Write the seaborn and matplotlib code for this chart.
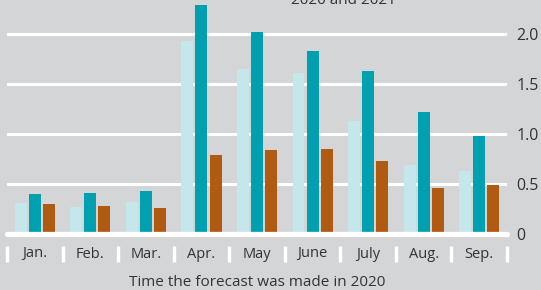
import matplotlib
matplotlib.use("Agg")
import matplotlib.pyplot as plt
import matplotlib.transforms as mtransforms
import seaborn as sns
import numpy as np
import pandas as pd

# Data
months = ["Jan.", "Feb.", "Mar.", "Apr.", "May", "June", "July", "Aug.", "Sep."]
series_names = ["Series A", "Series B", "Series C"]
series_a = [0.31, 0.27, 0.32, 1.93, 1.65, 1.61, 1.13, 0.69, 0.63]
series_b = [0.40, 0.41, 0.43, 2.29, 2.02, 1.83, 1.63, 1.22, 0.98]
series_c = [0.30, 0.28, 0.26, 0.79, 0.84, 0.85, 0.73, 0.46, 0.49]
y_ticks = [0, 0.5, 1.0, 1.5, 2.0]
y_ticklabels = ["0", "0.5", "1.0", "1.5", "2.0"]

bg = "#d4d5d7"
text_color = "#333333"
palette = ["#c5e6ea", "#00a0b1", "#b15a12"]

sns.set_theme(style="white")
plt.rcParams["font.family"] = ["Open Sans", "DejaVu Sans"]

df = pd.DataFrame({
    "month": months * 3,
    "value": series_a + series_b + series_c,
    "series": np.repeat(series_names, len(months)),
})

fig = plt.figure(figsize=(5.41, 2.90), dpi=100, facecolor=bg)
ax = fig.add_axes([7 / 541, (290 - 234) / 290, 500 / 541, 234 / 290])
ax.set_facecolor(bg)

sns.barplot(data=df, x="month", y="value", hue="series", order=months,
            hue_order=series_names, palette=palette, width=0.76, gap=0.15,
            saturation=1, edgecolor="none", legend=False, ax=ax, zorder=3)

ax.set_xlim(-0.5, len(months) - 0.5)
ax.set_ylim(0, 2.34)

# white gridlines, thicker baseline
for y in y_ticks[1:]:
    ax.axhline(y, color="white", lw=2.2, zorder=1)
ax.axhline(0, color="white", lw=3.8, zorder=4, clip_on=False)

for side in ["top", "bottom", "left", "right"]:
    ax.spines[side].set_visible(False)

ax.yaxis.tick_right()
ax.set_yticks(y_ticks)
ax.set_yticklabels(y_ticklabels)
ax.tick_params(axis="y", length=0, pad=7, labelsize=11.5, labelcolor=text_color)
ax.tick_params(axis="x", length=0, pad=9, labelsize=10.5, labelcolor=text_color)
ax.set_ylabel("")
ax.set_xlabel("Time the forecast was made in 2020", fontsize=11,
              color=text_color, labelpad=10)

# category separators below the axis
trans = mtransforms.blended_transform_factory(ax.transData, ax.transAxes)
for b in np.arange(len(months) + 1) - 0.5:
    ax.plot([b, b], [-12 / 234, -28 / 234], color="white", lw=2.5,
            transform=trans, clip_on=False, solid_capstyle="butt")

# heading, clipped at the top edge as in the reference
fig.text(343 / 541, 1 - 4 / 290, "2020 and 2021", ha="center", va="baseline",
         fontsize=11, color=text_color)

fig.savefig("out.png", dpi=100, facecolor=bg)
